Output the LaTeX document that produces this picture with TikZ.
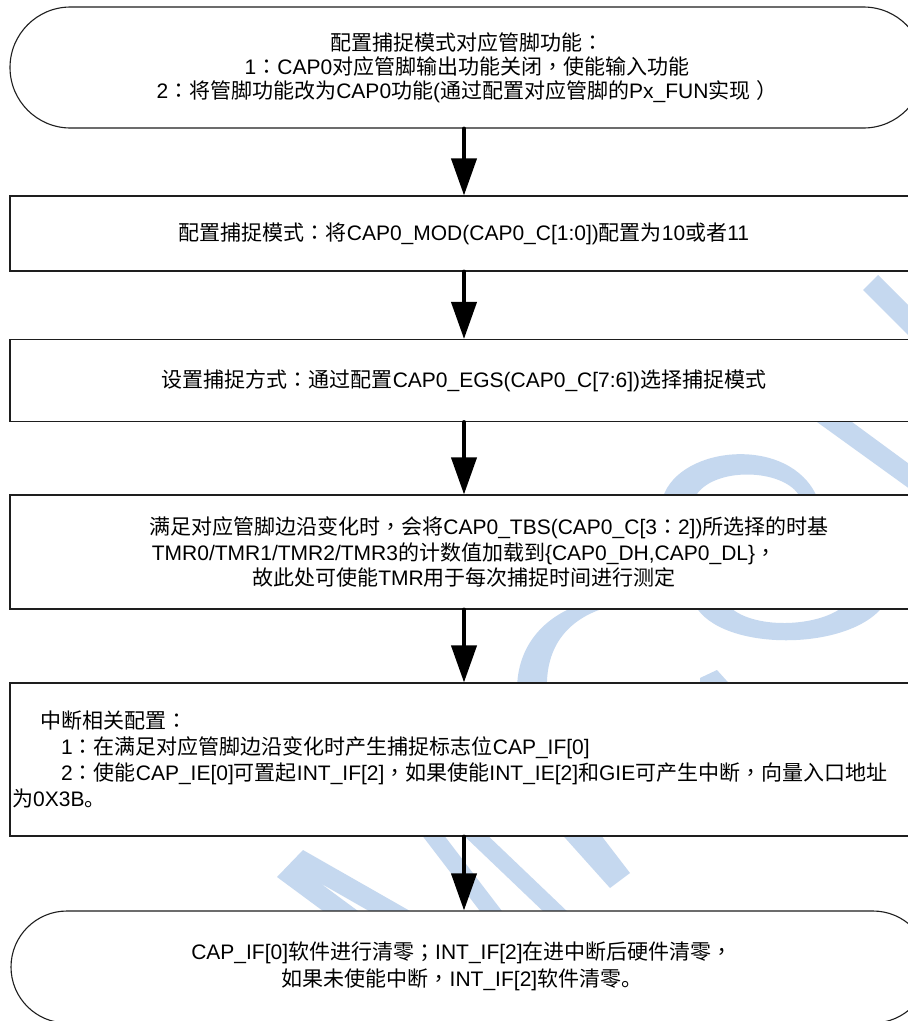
\documentclass[tikz,border=0pt]{standalone}
\usepackage{fontspec}
\setmainfont{Liberation Sans}
\newfontfamily\cjkf{Noto Sans CJK SC}
\newfontfamily\puncf{Noto Sans CJK TC}
\newfontfamily\latf{Liberation Sans}
\usetikzlibrary{arrows.meta,shapes.misc}
\XeTeXinterchartokenstate=1
\newXeTeXintercharclass\cjkcls
\newXeTeXintercharclass\punccls
\newcount\mycnt
\mycnt="20
\loop\XeTeXcharclass\mycnt=0 \ifnum\mycnt<"7E \advance\mycnt1 \repeat
\mycnt="3000
\loop\XeTeXcharclass\mycnt=\cjkcls\ifnum\mycnt<"303F \advance\mycnt1 \repeat
\mycnt="4E00
\loop\XeTeXcharclass\mycnt=\cjkcls\ifnum\mycnt<"9FFF \advance\mycnt1 \repeat
\mycnt="FF00
\loop\XeTeXcharclass\mycnt=\punccls\ifnum\mycnt<"FFEF \advance\mycnt1 \repeat
\XeTeXinterchartoks 0 \cjkcls={\cjkf}
\XeTeXinterchartoks 4095 \cjkcls={\cjkf}
\XeTeXinterchartoks \cjkcls 0={\latf}
\XeTeXinterchartoks \cjkcls 4095={\latf}
\XeTeXinterchartoks 0 \punccls={\puncf}
\XeTeXinterchartoks 4095 \punccls={\puncf}
\XeTeXinterchartoks \cjkcls \punccls={\puncf}
\XeTeXinterchartoks \punccls \cjkcls={\cjkf}
\XeTeXinterchartoks \punccls 0={\latf}
\XeTeXinterchartoks \punccls 4095={\latf}
\definecolor{wm}{RGB}{197,216,239}
\definecolor{edge}{RGB}{30,30,30}
\tikzset{
  box/.style={rectangle, draw=edge, fill=white, line width=1.1pt, minimum width=908pt, inner sep=0pt, align=center},
  term/.style={rounded rectangle, draw=edge, fill=white, line width=1.1pt, inner sep=0pt, align=center},
  arr/.style={line width=4pt, line cap=round, -{Triangle[length=37pt,width=25pt]}},
  txt/.style={inner sep=0pt},
}
\begin{document}
\begin{tikzpicture}[x=1pt,y=-1pt]
\useasboundingbox (0,0) rectangle (908,1021);
\clip (0,0) rectangle (908,1021);
\fill[white] (0,0) rectangle (908,1021);
% watermark
\fill[wm] (863,290) -- (878,275) -- (960,357) -- (945,372) -- cycle;
\fill[wm] (817,422) -- (852,422) -- (950,494) -- (950,518) -- cycle;
\fill[wm] (663,497) .. controls (680,445) and (790,435) .. (817,497) -- (800,497) .. controls (785,468) and (712,466) .. (695,497) -- cycle;
\fill[wm] (517,690) .. controls (517,645) and (545,612) .. (595,600) -- (612,606) .. controls (575,615) and (545,640) .. (547,690) -- cycle;
\fill[wm] (695,605) .. controls (720,652) and (850,652) .. (884,605) -- (845,605) .. controls (820,628) and (750,630) .. (728,605) -- cycle;
\fill[wm] (700,690) -- (700,678) -- (717,670) -- (735,690) -- cycle;
\fill[wm] (277,877) -- (303,850) -- (410,911) -- (369,911) -- (320,883) -- (358,911) -- (323,911) -- cycle;
\fill[wm] (418,830) -- (440,830) -- (505,915) -- (483,915) -- cycle;
\fill[wm] (458,830) -- (482,830) -- (571,915) -- (547,915) -- cycle;
\fill[wm] (558,830) -- (597,830) -- (630,873) -- (610,888) -- cycle;
% shapes
\node[term, minimum width=914pt, minimum height=121pt, font=\fontsize{21}{24}\selectfont] (t1) at (467,67.5)
  {配置捕捉模式对应管脚功能：\\1：CAP0对应管脚输出功能关闭，使能输入功能\\2：将管脚功能改为CAP0功能(通过配置对应管脚的Px\_FUN实现 ）};
\node[box, minimum height=75pt, font=\fontsize{21}{25}\selectfont] (b2) at (464,233.5)
  {配置捕捉模式：将CAP0\_MOD(CAP0\_C[1:0])配置为10或者11};
\node[box, minimum height=82pt, font=\fontsize{21}{25}\selectfont] (b3) at (464,380.5)
  {设置捕捉方式：通过配置CAP0\_EGS(CAP0\_C[7:6])选择捕捉模式};
\node[box, minimum height=114pt, font=\fontsize{21}{25.5}\selectfont] (b4) at (464,552)
  {\hspace*{50pt}满足对应管脚边沿变化时，会将CAP0\_TBS(CAP0\_C[3：2])所选择的时基\\TMR0/TMR1/TMR2/TMR3的计数值加载到\{CAP0\_DH,CAP0\_DL\}，\\故此处可使能TMR用于每次捕捉时间进行测定};
\node[box, minimum height=153pt] (b5) at (464,759.5) {};
\node[txt, anchor=west, align=left, font=\fontsize{21}{26}\selectfont] (t5) at (12,759.5)
  {\hspace*{28pt}中断相关配置：\\\hspace*{49pt}1：在满足对应管脚边沿变化时产生捕捉标志位CAP\_IF[0]\\\hspace*{49pt}2：使能CAP\_IE[0]可置起INT\_IF[2]，如果使能INT\_IE[2]和GIE可产生中断，向量入口地址\\为0X3B。};
\node[term, minimum width=918pt, minimum height=112pt] (t6) at (470,967) {};
\node[txt, align=center, font=\fontsize{21}{27}\selectfont] (t6t) at (462,966)
  {CAP\_IF[0]软件进行清零；INT\_IF[2]在进中断后硬件清零，\\如果未使能中断，INT\_IF[2]软件清零。};
% connectors
\draw[arr] (b2.north |- t1.south) -- (b2.north);
\draw[arr] (b2.south) -- (b3.north);
\draw[arr] (b3.south) -- (b4.north);
\draw[arr] (b4.south) -- (b5.north);
\draw[arr] (b5.south) -- (b5.south |- t6.north);
\end{tikzpicture}
\end{document}
